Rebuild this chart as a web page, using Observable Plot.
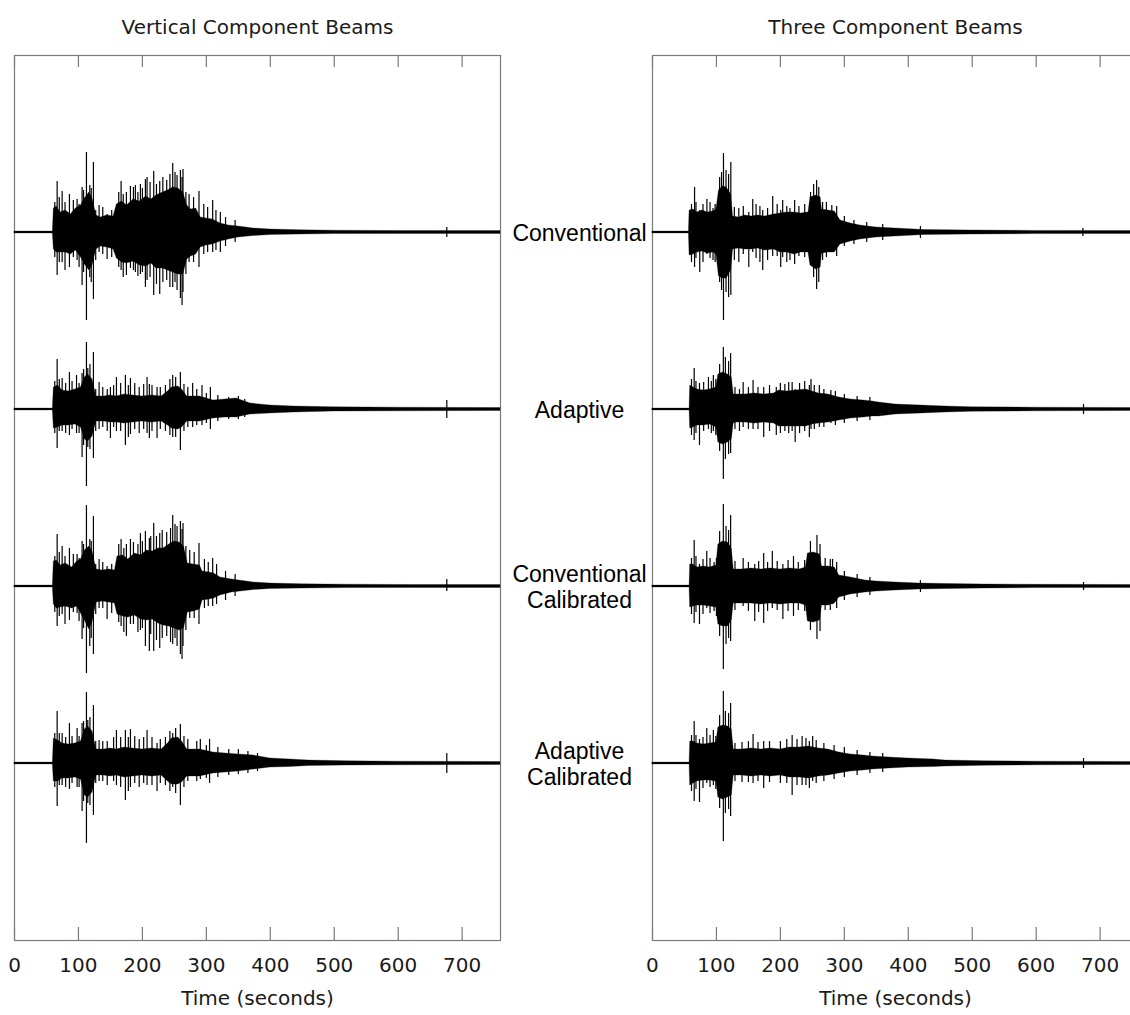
<!DOCTYPE html>
<html>
<head>
<meta charset="utf-8">
<script src="https://cdn.jsdelivr.net/npm/d3@7"></script>
<script src="https://cdn.jsdelivr.net/npm/@observablehq/plot@0.6"></script>
<style>
  html, body { margin: 0; padding: 0; background: #fff; overflow: hidden; }
  #chart { width: 1140px; }
</style>
</head>
<body>
<div id="chart"></div>
<script>
// ---------- categories ----------
const panels = ["Vertical Component Beams", "Three Component Beams"];
const traceLabels = ["Conventional", "Adaptive", "Conventional\nCalibrated", "Adaptive\nCalibrated"];
const xTicks = [0, 100, 200, 300, 400, 500, 600, 700];
const xLabel = "Time (seconds)";
const traceSpacing = 177; // amplitude counts between trace baselines

// ---------- envelopes (dense core): [time s, upper amplitude, lower amplitude] ----------
const vertConvEnv = [[0,0.9,0.9],[60,0.9,0.9],[61.5,24,17],[66,26,20],[72,20,20],[80,22,20],[88,18,22],[96,24,18],[104,27,25],[110,34,32],[117,40,38],[122,34,33],[128,17,17],[135,15,14],[145,17,15],[155,16,17],[160,28,26],[168,31,30],[176,27,31],[186,33,29],[196,31,33],[206,36,34],[214,33,31],[222,37,36],[232,40,36],[240,42,38],[248,45,40],[256,44,42],[264,40,42],[270,27,27],[276,23,24],[284,24,22],[291,15,15],[300,14,13],[310,13,12],[322,9,9],[335,7,7],[350,6,5],[374,4,3.5],[400,3,2.5],[447,2.2,2],[500,1.8,1.6],[600,1.5,1.4],[760,1.4,1.4]];
const vertAdaptEnv = [[0,0.9,0.9],[60,0.9,0.9],[61.5,22,19],[68,24,18],[75,19,16],[85,18,16],[95,20,15],[104,22,18],[110,32,30],[115,35,32],[122,30,27],[128,13,12],[140,13,12],[150,14,13],[160,13,13],[172,15,14],[185,14,13],[200,13,12],[215,14,13],[230,13,12],[240,18,16],[246,22,19],[256,23,20],[262,20,18],[270,13,12],[290,13,12],[311,9,9],[330,10,8],[347,11,8],[369,6,5],[400,4,4],[437,3,3],[500,2.2,2],[600,1.8,1.8],[760,1.5,1.5]];
const vertConvCalEnv = [[0,0.9,0.9],[60,0.9,0.9],[61.5,25,18],[66,26,22],[72,21,21],[80,23,20],[90,19,22],[98,25,20],[104,27,27],[110,36,34],[117,40,43],[122,35,36],[128,17,16],[138,16,15],[148,17,16],[157,16,17],[161,30,28],[170,31,30],[178,27,31],[188,33,29],[198,31,33],[207,36,34],[216,35,33],[225,38,37],[233,38,39],[242,42,40],[250,45,42],[258,44,44],[265,40,42],[271,23,26],[280,22,25],[290,21,23],[294,15,14],[305,14,13],[312,13,12],[322,9,9],[340,7,6],[374,4,3.5],[400,3,2.5],[450,2.2,2],[520,1.8,1.6],[620,1.5,1.4],[760,1.4,1.4]];
const vertAdaptCalEnv = [[0,0.9,0.9],[60,0.9,0.9],[61.5,25,18],[68,23,18],[75,20,15],[85,19,15],[95,20,14],[104,22,16],[110,34,32],[115,37,34],[122,32,29],[128,14,12],[140,14,12],[150,15,13],[160,14,12],[172,16,14],[185,15,13],[200,14,12],[215,15,13],[230,14,12],[240,20,18],[246,25,21],[256,26,21],[262,22,19],[270,14,13],[290,14,13],[311,11,10],[330,10,9],[350,9,8],[374,8,6],[400,5,4],[431,4,3.5],[460,3,2.5],[520,2.2,2],[600,1.8,1.8],[760,1.5,1.5]];
const threeConvEnv = [[0,0.9,0.9],[57,0.9,0.9],[58,22,23],[64,23,22],[70,20,20],[78,22,19],[86,20,21],[95,21,20],[100,23,22],[104,42,44],[110,46,46],[116,45,46],[123,38,38],[126,16,17],[135,15,16],[145,17,17],[155,16,17],[165,17,16],[176,16,18],[190,18,17],[200,19,20],[210,20,20],[222,20,22],[232,19,20],[244,20,20],[247,35,33],[256,37,37],[263,35,35],[265,23,21],[275,22,20],[285,21,20],[294,12,12],[310,9,9],[325,7,7],[350,5,5],[380,4,4],[410,3,3],[425,2.5,2.5],[500,2,2],[600,1.6,1.6],[760,1.5,1.5]];
const threeAdaptEnv = [[0,0.9,0.9],[58,0.9,0.9],[59,24,19],[64,22,18],[70,20,16],[80,19,16],[90,20,15],[100,22,18],[103,35,33],[110,37,35],[118,35,33],[124,32,30],[127,15,14],[131,15,13],[145,15,13],[160,16,14],[175,15,13],[190,16,14],[198,19,17],[210,18,17],[225,19,17],[240,20,17],[250,18,15],[260,16,14],[275,15,13],[292,12,11],[310,10,9],[330,9,8],[344,8,7],[354,7,7],[380,5,5],[420,4,4],[458,3,3],[500,2.2,2.2],[600,1.8,1.8],[760,1.5,1.5]];
const threeConvCalEnv = [[0,0.9,0.9],[58,0.9,0.9],[59,22,21],[64,22,20],[70,19,19],[80,20,19],[90,19,20],[100,21,21],[103,42,38],[110,45,40],[118,44,40],[124,38,34],[127,17,17],[140,17,17],[155,18,17],[170,17,18],[185,18,17],[200,17,18],[215,18,17],[230,17,17],[240,19,19],[243,33,35],[252,34,36],[262,32,34],[265,20,19],[275,20,19],[285,19,17],[292,11,11],[310,9,8],[333,6,6],[350,5,5],[380,4,4],[417,3,3],[460,2.5,2.5],[520,2,2],[600,1.7,1.6],[760,1.5,1.5]];
const threeAdaptCalEnv = [[0,0.9,0.9],[58,0.9,0.9],[59,22,22],[64,22,20],[70,20,18],[80,19,17],[90,20,17],[100,21,18],[103,36,34],[110,38,36],[118,37,34],[124,34,32],[127,14,12],[140,14,12],[155,15,13],[170,14,12],[185,15,13],[200,14,12],[215,16,14],[230,16,14],[245,17,15],[260,15,13],[275,14,12],[292,11,10],[310,9,8],[330,8,7],[344,7,6],[370,6,5],[400,5,4],[440,4,3.5],[458,3,3],[520,2.2,2.2],[600,1.8,1.8],[760,1.5,1.5]];

// ---------- individual excursions: [time s, upper amplitude, lower amplitude] ----------
const vertConvSpikes = [[63,30,25],[66.7,51,43],[70,35,30],[74.5,41,30],[79,30,38],[85.9,38,35],[92,32,25],[97.9,33,28],[101,28,35],[105.7,45,53],[108,42,40],[112.5,80,88],[117.7,47,45],[120,44,50],[123.4,70,67],[127,22,28],[132.3,27,20],[138,25,22],[144.8,18,27],[152,22,25],[163,40,35],[166.7,51,38],[170,38,45],[175,40,43],[181.3,46,36],[186,45,38],[189,47,40],[193,40,44],[196.9,48,42],[200,44,40],[204.7,53,55],[207.3,55,48],[212,50,45],[217.7,61,63],[222,48,52],[227.1,51,62],[232,55,50],[238,52,48],[243,58,55],[247.4,69,55],[251,60,50],[254.2,57,58],[259.4,62,66],[262,55,73],[263.5,63,60],[268,40,42],[273,38,30],[280,35,30],[288.5,41,35],[296,28,22],[302,25,20],[309.9,32,20],[315,22,18],[321.9,20,20],[330,15,14],[345,12,10],[676,5,5]];
const vertAdaptSpikes = [[63,28,24],[66.7,50,39],[70,30,22],[74.5,31,22],[80,26,24],[85.9,37,26],[90,28,20],[97,34,24],[101,26,24],[105.7,36,48],[108,40,36],[112.5,67,77],[114.6,41,38],[118,45,40],[123.4,57,49],[127,20,22],[132.3,27,20],[138,22,18],[145,20,22],[150,22,29],[155,24,18],[159.4,32,22],[166,26,22],[173.4,34,36],[178,24,28],[181.3,31,25],[188,26,20],[195,22,24],[202,25,20],[207.3,32,24],[210.9,25,29],[215,24,22],[222.9,22,29],[228,22,20],[236,24,22],[243,30,26],[247.4,34,28],[252,32,28],[259.4,37,41],[265,25,22],[271,22,18],[278.6,26,18],[285,20,16],[293.2,24,16],[300,16,14],[306.3,22,20],[318,14,12],[335,12,10],[350,13,10],[360,10,8],[676,9,9]];
const vertConvCalSpikes = [[63,30,26],[66.7,52,40],[70,34,30],[74.5,40,28],[79,30,38],[85.9,38,34],[92,32,26],[97.9,32,27],[101,28,35],[105.7,45,53],[108,42,42],[112.5,81,87],[117.7,47,60],[120,45,52],[123.4,70,68],[127,22,28],[132.3,27,22],[138,24,22],[144.8,20,33],[152,22,27],[163,42,36],[166.7,47,40],[171,38,46],[175,42,50],[181.3,47,38],[186,44,38],[193,42,46],[196.9,53,44],[200,45,42],[204.7,55,60],[210.9,48,65],[213,50,48],[217.7,63,65],[222,50,54],[227.1,53,62],[231,56,52],[238,54,50],[244,58,56],[247.4,71,58],[251,62,52],[254.2,60,60],[259.4,65,68],[262,57,73],[263.5,63,60],[268,40,44],[274,36,32],[281,34,32],[288.5,43,38],[297,27,22],[303,24,20],[309.9,28,20],[316,22,18],[330,15,14],[345,12,10],[676,7,5]];
const vertAdaptCalSpikes = [[63,30,24],[66.7,52,43],[70,30,22],[74.5,30,22],[80,26,24],[85.9,40,26],[90,27,20],[97.9,35,24],[101,27,24],[105.7,40,48],[108,42,38],[112.5,71,80],[114.6,43,40],[118,46,42],[123.4,58,52],[127,22,20],[132.3,23,18],[138,22,18],[145,22,22],[155,26,18],[159.4,33,22],[166,26,24],[173.4,33,37],[178,26,28],[181.3,34,24],[188,27,20],[195,24,24],[202,26,20],[207.3,33,22],[215,26,22],[222.9,20,28],[228,24,20],[236,26,22],[243,32,28],[247.4,30,24],[252,35,30],[259.4,39,42],[265,27,24],[271,24,18],[285,22,18],[290.6,24,16],[300,18,15],[305,24,20],[318,16,14],[335,14,12],[350,14,11],[365,12,10],[380,10,8],[676,10,10]];
const threeConvSpikes = [[61,28,30],[65.8,45,35],[68,30,26],[73.9,22,40],[79,28,30],[85.1,33,22],[90,30,26],[94.7,24,28],[98,28,30],[105,55,50],[108,60,58],[111,79,88],[115,62,60],[119,58,65],[122.5,70,63],[128,25,28],[135,24,30],[142,26,22],[150.6,20,35],[156.8,33,20],[162,28,26],[168,26,30],[172.4,22,38],[180,24,28],[188,36,24],[195,28,24],[200.5,22,35],[203.6,32,25],[210,26,30],[215,24,28],[222.3,32,32],[229,26,24],[238,28,25],[247.2,40,30],[252,48,45],[256.7,52,57],[260,45,50],[266,30,28],[272,30,25],[280.4,27,20],[288,26,24],[300,16,14],[315,12,12],[335,10,10],[360,8,8],[419,6,6],[673,4,4]];
const threeAdaptSpikes = [[61,30,26],[65.2,41,31],[68,28,24],[73.5,26,36],[80,27,22],[87.5,32,20],[92,28,24],[95.2,34,22],[99,30,26],[105,45,42],[110.8,62,70],[114,52,50],[119,48,45],[122.2,56,44],[129,22,20],[136,20,22],[141.8,27,18],[150,22,20],[157.3,29,20],[165,22,20],[173.9,22,28],[183,24,22],[193.6,22,26],[200,26,24],[207,25,22],[213,27,24],[218.4,27,22],[223.1,20,33],[230,26,24],[238,28,22],[245.3,24,28],[247.9,30,20],[253,24,20],[260.9,24,18],[268,20,18],[279,19,14],[286,18,16],[300,15,14],[320,13,12],[340,12,11],[674,5,5]];
const threeConvCalSpikes = [[61,28,28],[65.2,46,37],[68,30,26],[73.5,22,38],[79,27,28],[84.9,35,22],[90,28,27],[96.3,24,25],[100,28,30],[105,55,50],[110.8,82,83],[115,60,58],[119,56,52],[122.2,71,55],[129,25,24],[141.8,28,20],[150,24,25],[159.9,22,35],[166,25,26],[173.9,33,37],[180,24,25],[187.4,35,22],[195,25,24],[203.9,22,33],[212,26,25],[220.5,30,30],[228,24,24],[238,26,25],[247,45,44],[257.2,51,53],[262,42,45],[270,28,24],[278,27,24],[281.6,27,18],[288,24,22],[300,15,14],[320,12,11],[340,9,9],[419,6,6],[674,4,4]];
const threeAdaptCalSpikes = [[61,28,28],[65.2,42,38],[68,28,26],[73.5,24,39],[79,26,25],[84.9,35,20],[90,28,24],[95.2,33,22],[99,27,26],[105,48,45],[110.8,72,78],[114,52,50],[119,50,46],[122.2,60,53],[129,20,18],[140,21,19],[150,22,19],[157.3,29,20],[165,21,18],[173.9,22,25],[183,22,19],[200,22,20],[210,24,20],[218.4,28,32],[226,24,22],[234,27,22],[240,25,22],[245.3,22,25],[250.5,27,18],[256,23,20],[268,20,18],[284,18,16],[300,16,14],[320,13,12],[340,11,10],[360,10,9],[674,5,5]];

// ---------- assemble tables ----------
const traceDefs = [
  [panels[0], 0, vertConvEnv, vertConvSpikes],
  [panels[0], 1, vertAdaptEnv, vertAdaptSpikes],
  [panels[0], 2, vertConvCalEnv, vertConvCalSpikes],
  [panels[0], 3, vertAdaptCalEnv, vertAdaptCalSpikes],
  [panels[1], 0, threeConvEnv, threeConvSpikes],
  [panels[1], 1, threeAdaptEnv, threeAdaptSpikes],
  [panels[1], 2, threeConvCalEnv, threeConvCalSpikes],
  [panels[1], 3, threeAdaptCalEnv, threeAdaptCalSpikes]
];
const nRows = traceLabels.length;
const baseOf = (row) => (nRows - row) * traceSpacing;
const envRows = [], spikeRows = [];
for (const [panel, row, env, spikes] of traceDefs) {
  const b = baseOf(row);
  for (const [t, up, dn] of env) envRows.push({panel, key: panel + row, t, hi: b + up, lo: b - dn});
  for (const [t, up, dn] of spikes) spikeRows.push({panel, t, hi: b + up, lo: b - dn});
}
const labelRows = traceLabels.map((text, row) => ({panel: panels[0], y: baseOf(row), text}));
const xLabelRows = panels.map(panel => ({panel, text: xLabel}));

const W = 1140, H = 1015, mTop = 55, mBottom = 75;
const innerH = H - mTop - mBottom;
const frameColor = "#7a7a7a";

const chart = Plot.plot({
  width: W,
  height: H,
  marginTop: mTop,
  marginBottom: mBottom,
  marginLeft: 14,
  marginRight: 2,
  style: {fontFamily: "'DejaVu Sans', Verdana, sans-serif", fontSize: "20px", color: "#1a1a1a", background: "#fff"},
  fx: {domain: panels, paddingInner: 0.2382, paddingOuter: 0, round: false, label: null, axis: null},
  x: {domain: [0, 760], axis: null},
  y: {domain: [0, (nRows + 1) * traceSpacing], axis: null},
  marks: [
    Plot.axisFx({anchor: "top", tickSize: 0, tickPadding: 22, label: null, fontSize: 20}),
    Plot.axisX(xTicks, {anchor: "bottom", tickSize: 0, tickPadding: 17, label: null, fontSize: 20}),
    Plot.text(xLabelRows, {fx: "panel", text: "text", frameAnchor: "bottom", dy: 58, lineAnchor: "middle", fontSize: 20, fill: "#1a1a1a"}),
    Plot.frame({stroke: frameColor, strokeWidth: 1.2}),
    Plot.tickX(xTicks, {x: d => d, insetBottom: innerH - 12, stroke: frameColor, strokeWidth: 1.2}),
    Plot.tickX(xTicks, {x: d => d, insetTop: innerH - 13, stroke: frameColor, strokeWidth: 1.2}),
    Plot.areaY(envRows, {x: "t", y1: "lo", y2: "hi", z: "key", fx: "panel", fill: "#000", stroke: "#000", strokeWidth: 0.3}),
    Plot.ruleX(spikeRows, {x: "t", y1: "lo", y2: "hi", fx: "panel", stroke: "#000", strokeWidth: 1.2}),
    Plot.text(labelRows, {fx: "panel", y: "y", text: "text", frameAnchor: "right", dx: 79, textAnchor: "middle", lineAnchor: "middle", lineHeight: 1.12, fontFamily: "'Liberation Sans', Arial, sans-serif", fontSize: 23, fill: "#000"})
  ]
});
document.getElementById("chart").appendChild(chart);
</script>
</body>
</html>
